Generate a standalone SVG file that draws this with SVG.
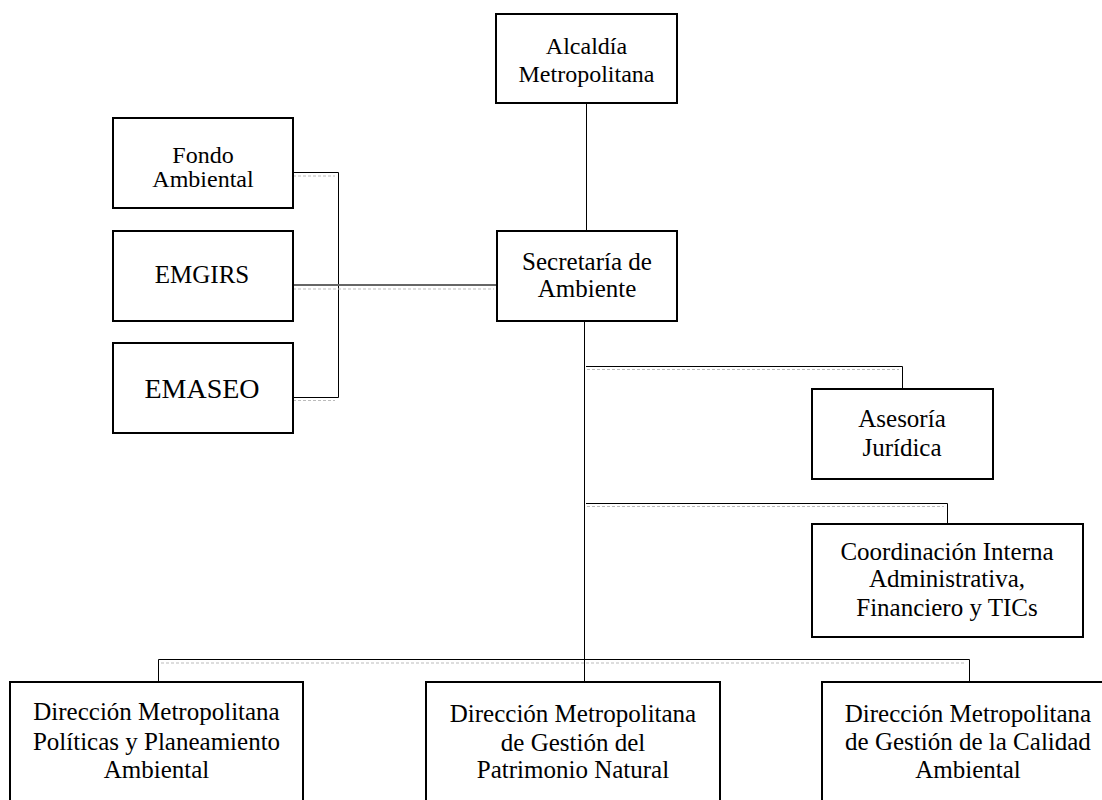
<svg xmlns="http://www.w3.org/2000/svg" width="1102" height="800" viewBox="0 0 1102 800">
<style>
.box{fill:#fff;stroke:#000;stroke-width:2}
.ln{fill:none;stroke:#000;stroke-width:1}
.ln2{fill:none;stroke:#666;stroke-width:2}
.sh{fill:none;stroke:#bbb;stroke-width:1;stroke-dasharray:3 2}
text{font-family:"Liberation Serif","Times New Roman",serif;font-size:25px;fill:#000;text-anchor:middle}
.sm{font-size:24px}
.big{font-size:28px}
</style>
<rect width="1102" height="800" fill="#fff"/>
<g id="connectors">
<line class="ln" x1="586.5" y1="103" x2="586.5" y2="231"/>
<line class="ln" x1="584.5" y1="321" x2="584.5" y2="682"/>
<polyline class="ln" points="293,172.5 338.5,172.5 338.5,397.5 293,397.5"/>
<line class="sh" x1="293" y1="176" x2="335" y2="176"/>
<line class="sh" x1="293" y1="400.5" x2="335" y2="400.5"/>
<line class="ln2" x1="293" y1="285" x2="497" y2="285"/>
<line class="sh" x1="293" y1="289" x2="494" y2="289"/>
<polyline class="ln" points="586,366.5 902.5,366.5 902.5,389"/>
<line class="sh" x1="587" y1="369.5" x2="899" y2="369.5"/>
<polyline class="ln" points="586,503.5 947.5,503.5 947.5,524"/>
<line class="sh" x1="587" y1="506.5" x2="944" y2="506.5"/>
<polyline class="ln" points="158.5,682 158.5,659.5 969.5,659.5 969.5,682"/>
<line class="sh" x1="161" y1="663" x2="966" y2="663"/>
</g>
<g id="alcaldia">
<rect class="box" x="496" y="14" width="181" height="89"/>
<text class="sm" x="586.5" y="54">Alcaldía</text>
<text class="sm" x="586.5" y="82">Metropolitana</text>
</g>
<g id="fondo">
<rect class="box" x="113" y="118" width="180" height="90"/>
<text class="sm" x="203" y="163">Fondo</text>
<text class="sm" x="203" y="187">Ambiental</text>
</g>
<g id="emgirs">
<rect class="box" x="113" y="231" width="180" height="90"/>
<text x="202" y="283">EMGIRS</text>
</g>
<g id="emaseo">
<rect class="box" x="113" y="343" width="180" height="90"/>
<text class="big" x="202" y="398">EMASEO</text>
</g>
<g id="secretaria">
<rect class="box" x="497" y="231" width="180" height="90"/>
<text x="587" y="270">Secretaría de</text>
<text x="587" y="297">Ambiente</text>
</g>
<g id="asesoria">
<rect class="box" x="812" y="389" width="181" height="90"/>
<text x="902" y="427">Asesoría</text>
<text x="902" y="456">Jurídica</text>
</g>
<g id="coordinacion">
<rect class="box" x="812" y="524" width="271" height="113"/>
<text x="947" y="560">Coordinación Interna</text>
<text x="947" y="587">Administrativa,</text>
<text x="947" y="616">Financiero y TICs</text>
</g>
<g id="dir-politicas">
<rect class="box" x="10" y="682" width="293" height="130"/>
<text x="156.5" y="720">Dirección Metropolitana</text>
<text x="156.5" y="750">Políticas y Planeamiento</text>
<text x="156.5" y="778">Ambiental</text>
</g>
<g id="dir-patrimonio">
<rect class="box" x="426" y="682" width="294" height="130"/>
<text x="573" y="722">Dirección Metropolitana</text>
<text x="573" y="751">de Gestión del</text>
<text x="573" y="778">Patrimonio Natural</text>
</g>
<g id="dir-calidad">
<rect class="box" x="822" y="682" width="294" height="130"/>
<text x="968" y="722">Dirección Metropolitana</text>
<text x="968" y="750">de Gestión de la Calidad</text>
<text x="968" y="778">Ambiental</text>
</g>
</svg>
